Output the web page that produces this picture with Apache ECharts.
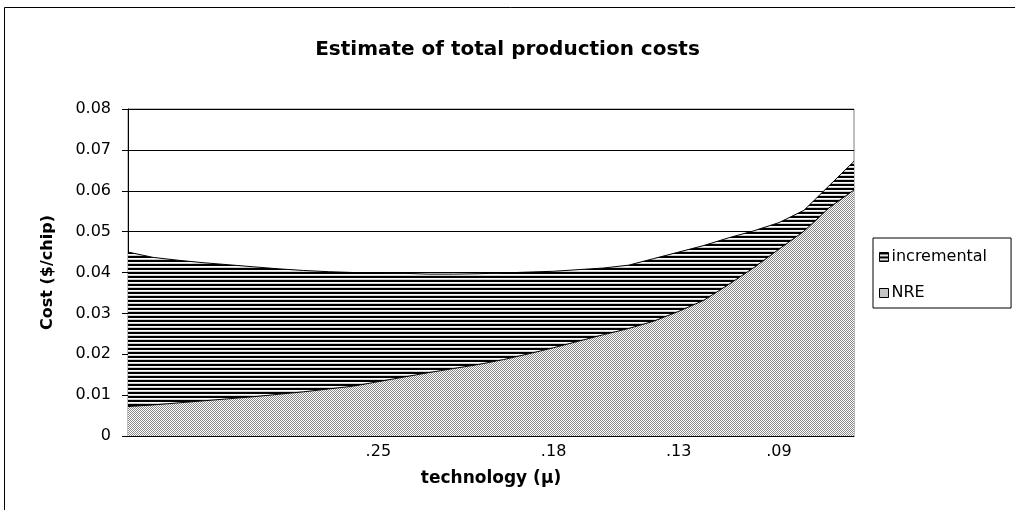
<!DOCTYPE html>
<html>
<head>
<meta charset="utf-8">
<title>Estimate of total production costs</title>
<script src="https://cdn.jsdelivr.net/npm/echarts@6/dist/echarts.min.js"></script>
<style>
  html, body { margin: 0; padding: 0; background: #fff; }
  #chart { width: 1015px; height: 510px; }
</style>
</head>
<body>
<div id="chart"></div>
<script>
// Technology nodes along the x axis (only a few are labelled)
const categories = ['', '', '', '', '', '', '', '', '', '', '.25', '', '', '', '', '', '', '.18', '', '', '', '', '.13', '', '', '', '.09', '', '', ''];

// NRE cost per chip ($)
const nre = [0.0072, 0.0076, 0.0081, 0.0086, 0.0091, 0.0096, 0.0102, 0.0108, 0.0115, 0.0122,
             0.0133, 0.0144, 0.0155, 0.0165, 0.0175, 0.0187, 0.0201, 0.0216, 0.0232, 0.0248,
             0.0263, 0.0281, 0.0305, 0.0332, 0.0371, 0.0412, 0.0457, 0.0501, 0.0558, 0.0602];

// Incremental cost per chip ($), stacked on top of NRE
const incremental = [0.0378, 0.0361, 0.0349, 0.0338, 0.0328, 0.0318, 0.0307, 0.0297, 0.0287, 0.0278,
                     0.0266, 0.0254, 0.0241, 0.0231, 0.0222, 0.0212, 0.0200, 0.0187, 0.0175, 0.0163,
                     0.0155, 0.0153, 0.0145, 0.0134, 0.0114, 0.0090, 0.0065, 0.0051, 0.0054, 0.0070];

const yTicks = { min: 0, max: 0.08, interval: 0.01 };

// Fill patterns: horizontal stripes and a fine stipple
function makePattern(w, h, paint) {
  const c = document.createElement('canvas');
  c.width = w; c.height = h;
  const ctx = c.getContext('2d');
  ctx.fillStyle = '#fff';
  ctx.fillRect(0, 0, w, h);
  paint(ctx);
  return { image: c, repeat: 'repeat' };
}
const stripes = makePattern(4, 4, ctx => {
  ctx.fillStyle = '#000';
  ctx.fillRect(0, 0, 4, 2);
  ctx.fillStyle = '#d0d0d0';
  ctx.fillRect(0, 3, 4, 1);
});
const dots = makePattern(2, 2, ctx => {
  ctx.fillStyle = '#8a8a8a';
  ctx.fillRect(0, 0, 1, 1);
  ctx.fillRect(1, 1, 1, 1);
});

const FONT = 'DejaVu Sans';

const chart = echarts.init(document.getElementById('chart'), null, { renderer: 'canvas' });
chart.setOption({
  animation: false,
  backgroundColor: '#fff',
  title: {
    text: 'Estimate of total production costs',
    left: 'center',
    top: 35,
    textStyle: { fontFamily: FONT, fontWeight: 'bold', fontSize: 20, color: '#000' }
  },
  graphic: [{
    type: 'rect',
    silent: true,
    z: -1,
    shape: { x: 4.5, y: 7.5, width: 1040, height: 530 },
    style: { fill: 'none', stroke: '#000', lineWidth: 1 }
  }],
  legend: {
    orient: 'vertical',
    left: 873,
    top: 238,
    padding: [10, 24, 6, 6],
    itemGap: 18,
    itemWidth: 9,
    itemHeight: 9,
    icon: 'rect',
    borderColor: '#000',
    borderWidth: 1,
    textStyle: { fontFamily: FONT, fontSize: 16, lineHeight: 18, color: '#000', padding: [0, 0, 0, -2] },
    data: [
      { name: 'incremental', itemStyle: { color: stripes, borderColor: '#000', borderWidth: 1 } },
      { name: 'NRE', itemStyle: { color: dots, borderColor: '#000', borderWidth: 1 } }
    ]
  },
  grid: {
    left: 128,
    right: 161,
    top: 109,
    bottom: 74,
    show: true,
    borderColor: '#808080',
    borderWidth: 1,
    backgroundColor: 'transparent'
  },
  xAxis: {
    type: 'category',
    data: categories,
    boundaryGap: false,
    name: 'technology (µ)',
    nameLocation: 'middle',
    nameGap: 34,
    nameTextStyle: { fontFamily: FONT, fontWeight: 'bold', fontSize: 17, color: '#000' },
    axisLine: { lineStyle: { color: '#000', width: 1 } },
    axisTick: { show: false },
    axisLabel: { interval: 0, margin: 8, fontFamily: FONT, fontSize: 16, color: '#000' },
    splitLine: { show: false }
  },
  yAxis: {
    type: 'value',
    min: yTicks.min,
    max: yTicks.max,
    interval: yTicks.interval,
    name: 'Cost ($/chip)',
    nameLocation: 'middle',
    nameGap: 72,
    nameTextStyle: { fontFamily: FONT, fontWeight: 'bold', fontSize: 16, color: '#000' },
    axisLine: { show: true, lineStyle: { color: '#000', width: 1 } },
    axisTick: { show: true, inside: false, length: 6, lineStyle: { color: '#000' } },
    axisLabel: { margin: 17, fontFamily: FONT, fontSize: 16, color: '#000' },
    splitLine: { show: true, lineStyle: { color: '#000', width: 1 } }
  },
  series: [
    {
      name: 'NRE',
      type: 'line',
      stack: 'cost',
      data: nre,
      showSymbol: false,
      symbol: 'none',
      itemStyle: { color: dots },
      lineStyle: { color: '#000', width: 1 },
      areaStyle: { color: dots, opacity: 1 }
    },
    {
      name: 'incremental',
      type: 'line',
      stack: 'cost',
      data: incremental,
      showSymbol: false,
      symbol: 'none',
      itemStyle: { color: stripes },
      lineStyle: { color: '#000', width: 1 },
      areaStyle: { color: stripes, opacity: 1 }
    }
  ]
});
</script>
</body>
</html>
